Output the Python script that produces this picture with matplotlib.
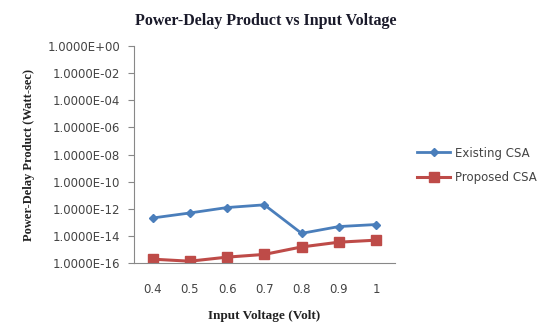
import matplotlib.pyplot as plt
from matplotlib.ticker import FuncFormatter, FixedLocator

# Data (exponents of the power-delay product)
voltages = ["0.4", "0.5", "0.6", "0.7", "0.8", "0.9", "1"]
existing_csa = [10 ** e for e in [-12.67, -12.3, -11.9, -11.7, -13.8, -13.3, -13.15]]
proposed_csa = [10 ** e for e in [-15.7, -15.85, -15.55, -15.35, -14.8, -14.45, -14.3]]
y_ticks = [10.0 ** -k for k in range(0, 17, 2)]

fig = plt.figure(figsize=(5.4, 3.23), dpi=100)
ax = fig.add_axes([0.248, 0.185, 0.483, 0.673])

x = range(len(voltages))
ax.plot(x, existing_csa, color="#4A7EBB", marker="D", markersize=4, linewidth=2, label="Existing CSA")
ax.plot(x, proposed_csa, color="#BE4B48", marker="s", markersize=7, linewidth=2.2, label="Proposed CSA")

ax.set_yscale("log")
ax.set_ylim(1e-16, 1e0)
ax.yaxis.set_major_locator(FixedLocator(y_ticks))
ax.yaxis.set_minor_locator(FixedLocator([]))
ax.yaxis.set_major_formatter(FuncFormatter(lambda v, p: "{:.4E}".format(v)))
ax.set_xlim(-0.5, len(voltages) - 0.5)
ax.set_xticks(list(x))
ax.set_xticklabels(voltages)

for side in ["top", "right"]:
    ax.spines[side].set_visible(False)
for side in ["left", "bottom"]:
    ax.spines[side].set_color("#888888")
ax.tick_params(axis="y", length=4, color="#888888", labelsize=8.5, labelcolor="#444444", pad=6)
ax.tick_params(axis="x", length=0, labelsize=8.5, labelcolor="#444444", pad=14)

fig.text(0.493, 0.935, "Power-Delay Product vs Input Voltage", fontsize=11.5, fontweight="bold",
         family="Liberation Serif", ha="center", va="center", color="#1a1a2a")
ax.set_xlabel("Input Voltage (Volt)", fontsize=9.5, fontweight="bold", family="Liberation Serif",
              labelpad=10, color="#222222")
ax.set_ylabel("Power-Delay Product (Watt-sec)", fontsize=9, fontweight="bold", family="Liberation Serif",
              labelpad=9, color="#222222")

ax.legend(loc="center left", bbox_to_anchor=(1.045, 0.45), frameon=False, fontsize=8.5,
          handlelength=2.8, labelspacing=1.0, labelcolor="#444444", handletextpad=0.4)

plt.savefig("out.png", dpi=100)
